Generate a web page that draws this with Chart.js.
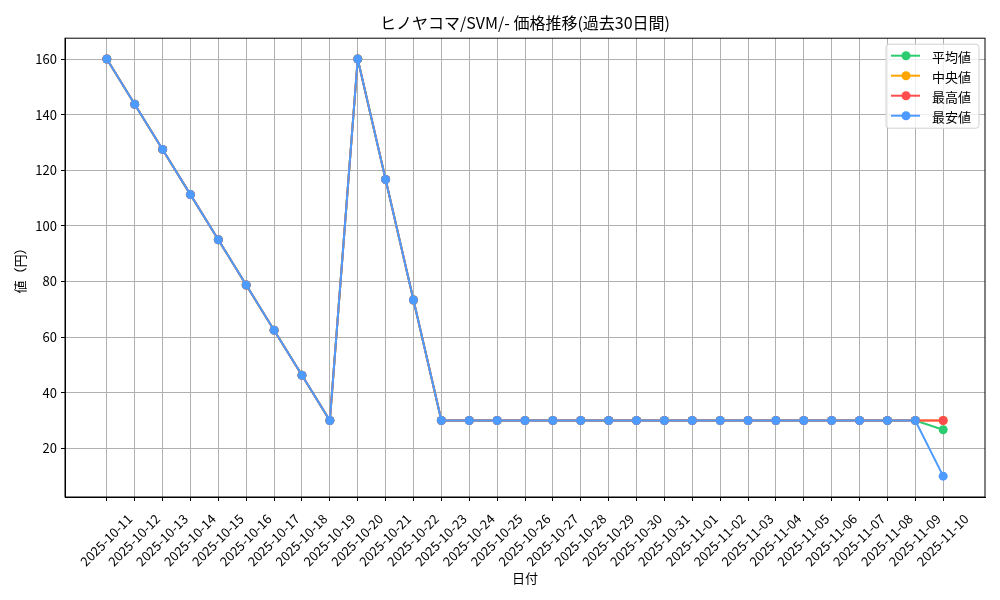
<!DOCTYPE html>
<html>
<head>
<meta charset="utf-8">
<script src="https://cdn.jsdelivr.net/npm/chart.js@4.4.0/dist/chart.umd.min.js"></script>
<style>
    html, body { margin: 0; padding: 0; background: #fff; }
    #wrap { width: 1000px; height: 600px; }
</style>
</head>
<body>
<div id="wrap"><canvas id="priceChart" width="1000" height="600"></canvas></div>
<script>
// Chart data
const dates = [
    '2025-10-11', '2025-10-12', '2025-10-13', '2025-10-14', '2025-10-15', '2025-10-16',
    '2025-10-17', '2025-10-18', '2025-10-19', '2025-10-20', '2025-10-21', '2025-10-22',
    '2025-10-23', '2025-10-24', '2025-10-25', '2025-10-26', '2025-10-27', '2025-10-28',
    '2025-10-29', '2025-10-30', '2025-10-31', '2025-11-01', '2025-11-02', '2025-11-03',
    '2025-11-04', '2025-11-05', '2025-11-06', '2025-11-07', '2025-11-08', '2025-11-09',
    '2025-11-10'
];
const avgPrices = [160, 143.75, 127.5, 111.25, 95, 78.75, 62.5, 46.25, 30, 160, 116.67, 73.33,
    30, 30, 30, 30, 30, 30, 30, 30, 30, 30, 30, 30, 30, 30, 30, 30, 30, 30, 26.67];
const medianPrices = [160, 143.75, 127.5, 111.25, 95, 78.75, 62.5, 46.25, 30, 160, 116.67, 73.33,
    30, 30, 30, 30, 30, 30, 30, 30, 30, 30, 30, 30, 30, 30, 30, 30, 30, 30, 30];
const maxPrices = [160, 143.75, 127.5, 111.25, 95, 78.75, 62.5, 46.25, 30, 160, 116.67, 73.33,
    30, 30, 30, 30, 30, 30, 30, 30, 30, 30, 30, 30, 30, 30, 30, 30, 30, 30, 30];
const minPrices = [160, 143.75, 127.5, 111.25, 95, 78.75, 62.5, 46.25, 30, 160, 116.67, 73.33,
    30, 30, 30, 30, 30, 30, 30, 30, 30, 30, 30, 30, 30, 30, 30, 30, 30, 30, 10];
const yTicks = [20, 40, 60, 80, 100, 120, 140, 160];

const seriesNames = ['平均値', '中央値', '最高値', '最安値'];
const seriesColors = ['#2ecc71', '#ffa500', '#ff4d4d', '#4d9bff'];

const FONT = '"Noto Sans CJK JP", "Noto Sans", sans-serif';

// Turn a value list into {x, y} points on the index axis
function toPoints(values) {
    return values.map((v, i) => ({ x: i, y: v }));
}

// Frame around the plot area + legend in the upper right corner
const framePlugin = {
    id: 'frame',
    afterDraw(chart) {
        const { ctx, chartArea } = chart;
        ctx.save();
        ctx.strokeStyle = '#000';
        ctx.lineWidth = 1;
        ctx.strokeRect(chartArea.left, chartArea.top,
            chartArea.right - chartArea.left, chartArea.bottom - chartArea.top);

        // legend box
        const bx = chartArea.right - 99, by = chartArea.top + 6, bw = 93, bh = 84;
        ctx.fillStyle = 'rgba(255,255,255,0.8)';
        ctx.strokeStyle = '#d0d0d0';
        ctx.beginPath();
        ctx.roundRect(bx, by, bw, bh, 3);
        ctx.fill();
        ctx.stroke();

        ctx.font = '13px ' + FONT;
        ctx.textBaseline = 'middle';
        ctx.textAlign = 'left';
        seriesNames.forEach((name, i) => {
            const y = by + 11.5 + i * 20;
            ctx.strokeStyle = seriesColors[i];
            ctx.lineWidth = 2;
            ctx.beginPath();
            ctx.moveTo(bx + 5, y);
            ctx.lineTo(bx + 34, y);
            ctx.stroke();
            ctx.fillStyle = seriesColors[i];
            ctx.beginPath();
            ctx.arc(bx + 20, y, 4.5, 0, Math.PI * 2);
            ctx.fill();
            ctx.fillStyle = '#000';
            ctx.fillText(name, bx + 46, y + 1);
        });
        ctx.restore();
    }
};

function createPriceChart() {
    const ctx = document.getElementById('priceChart').getContext('2d');
    const allSeries = [avgPrices, medianPrices, maxPrices, minPrices];

    new Chart(ctx, {
        type: 'line',
        data: {
            datasets: allSeries.map((values, i) => ({
                label: seriesNames[i],
                data: toPoints(values),
                borderColor: seriesColors[i],
                backgroundColor: seriesColors[i],
                borderWidth: 2,
                pointRadius: 4.5,
                pointHoverRadius: 4.5,
                pointBorderWidth: 0,
                tension: 0,
                order: 4 - i
            }))
        },
        options: {
            responsive: false,
            animation: false,
            layout: {
                padding: { left: 0, right: 15, top: 0, bottom: 0 }
            },
            plugins: {
                legend: { display: false },
                tooltip: { enabled: false },
                title: {
                    display: true,
                    fullSize: false,
                    text: 'ヒノヤコマ/SVM/- 価格推移(過去30日間)',
                    color: '#000',
                    font: { family: FONT, size: 16, weight: 'normal', lineHeight: 1.2 },
                    padding: { top: 13, bottom: 6 }
                }
            },
            scales: {
                x: {
                    type: 'linear',
                    min: -1.5,
                    max: 31.5,
                    afterBuildTicks: scale => {
                        scale.ticks = dates.map((d, i) => ({ value: i }));
                    },
                    afterFit: scale => { scale.height = 103; },
                    grid: {
                        color: '#b0b0b0',
                        tickColor: '#000',
                        tickLength: 4
                    },
                    border: { color: '#000' },
                    ticks: {
                        autoSkip: false,
                        minRotation: 45,
                        maxRotation: 45,
                        padding: 10,
                        labelOffset: 23,
                        color: '#000',
                        font: { family: FONT, size: 13 },
                        callback: value => dates[value]
                    },
                    title: {
                        display: true,
                        text: '日付',
                        color: '#000',
                        font: { family: FONT, size: 13 },
                        padding: { top: 0, bottom: 14 }
                    }
                },
                y: {
                    min: 2.5,
                    max: 167.5,
                    afterBuildTicks: scale => {
                        scale.ticks = yTicks.map(v => ({ value: v }));
                    },
                    afterFit: scale => { scale.width = 65; },
                    grid: {
                        color: '#b0b0b0',
                        tickColor: '#000',
                        tickLength: 4
                    },
                    border: { color: '#000' },
                    ticks: {
                        padding: 4,
                        color: '#000',
                        font: { family: FONT, size: 13 }
                    },
                    title: {
                        display: true,
                        text: '値（円）',
                        color: '#000',
                        font: { family: FONT, size: 13 },
                        padding: { top: 12, bottom: 0 }
                    }
                }
            }
        },
        plugins: [framePlugin]
    });
}

document.addEventListener('DOMContentLoaded', createPriceChart);
</script>
</body>
</html>
